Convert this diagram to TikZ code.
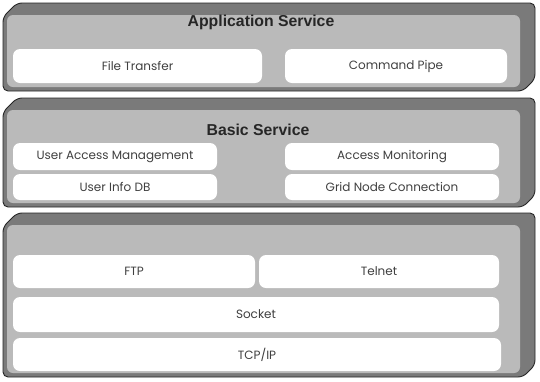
\documentclass[tikz,border=0pt]{standalone}
\usepackage{fontspec}
\setmainfont{Poppins}
\newfontfamily\titlefont{Liberation Sans}
\usepackage{xcolor}
\usepackage{tikz}
\usetikzlibrary{positioning, calc}
\definecolor{layerrim}{gray}{0.48}
\definecolor{layerface}{gray}{0.73}
\tikzstyle{rim} = [draw=black!85, line width=0.9pt, fill=layerrim, rounded corners=5pt]
\tikzstyle{face} = [fill=layerface, rounded corners=6pt]
\tikzstyle{title} = [font=\titlefont\bfseries\fontsize{15.8}{16}\selectfont, text=black!85]
\tikzstyle{service} = [rectangle, rounded corners=7pt, fill=white, inner sep=0pt, outer sep=0pt, text centered, text=black!75, font=\fontsize{12}{13}\selectfont]

\begin{document}
\begin{tikzpicture}[x=1pt, y=-1pt]
\useasboundingbox (0,0) rectangle (540,381);

% Layers
    \draw [rim] (3,17) -- (17,3) -- (535,3) -- (535,79) -- (523,91) -- (3,91) -- cycle;
    \fill [face] (7,15) rectangle (520,87);
    \draw [rim] (3,112) -- (17,98) -- (535,98) -- (535,195) -- (523,207) -- (3,207) -- cycle;
    \fill [face] (7,110) rectangle (520,203);
    \draw [rim] (3,227) -- (17,213) -- (535,213) -- (535,365) -- (523,377) -- (3,377) -- cycle;
    \fill [face] (7,225) rectangle (520,373);

    % Titles
    \node (appTitle) [title] at (261,22) {Application Service};
    \node (basicTitle) [title] at (258,130) {Basic Service};

    % Application Service
    \node (fileTransfer) [service, minimum width=249pt, minimum height=34pt] at (137.5,66) {File Transfer};
    \node (commandPipe) [service, minimum width=222pt, minimum height=34pt] at (396,66) {Command Pipe};

    % Basic Service
    \node (userAccess) [service, minimum width=204pt, minimum height=27pt] at (115,156.5) {User Access Management};
    \node (userInfo) [service, minimum width=204pt, minimum height=26pt] at (115,187) {User Info DB};
    \node (accessMon) [service, minimum width=214pt, minimum height=27pt] at (392,156.5) {Access Monitoring};
    \node (gridNode) [service, minimum width=214pt, minimum height=26pt] at (392,187) {Grid Node Connection};

    % Transport
    \node (ftp) [service, minimum width=242pt, minimum height=33pt] at (134,271.5) {FTP};
    \node (telnet) [service, minimum width=240pt, minimum height=33pt] at (379,271.5) {Telnet};
    \node (socket) [service, minimum width=486pt, minimum height=35pt] at (256,314.5) {Socket};
    \node (tcpip) [service, minimum width=488pt, minimum height=33pt] at (257,354.5) {TCP/IP};
\end{tikzpicture}
\end{document}
